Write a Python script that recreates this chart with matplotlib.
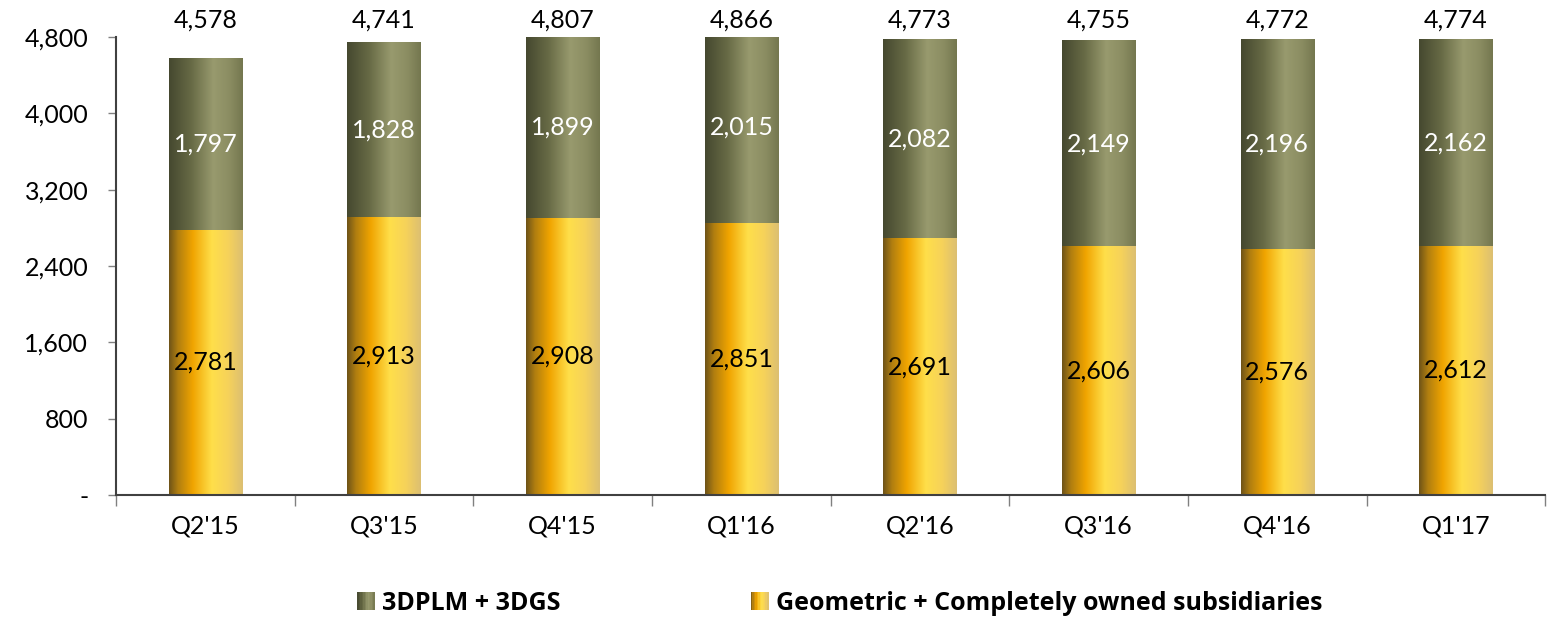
import numpy as np
import matplotlib
matplotlib.use("Agg")
import matplotlib.pyplot as plt
from matplotlib.colors import LinearSegmentedColormap
from matplotlib.patches import Rectangle
from matplotlib.legend_handler import HandlerBase
from matplotlib.ticker import FuncFormatter, FixedLocator

plt.rcParams['font.family'] = ['Lato', 'DejaVu Sans']

quarters = ["Q2'15", "Q3'15", "Q4'15", "Q1'16", "Q2'16", "Q3'16", "Q4'16", "Q1'17"]
geometric = [2781, 2913, 2908, 2851, 2691, 2606, 2576, 2612]
plm_dgs = [1797, 1828, 1899, 2015, 2082, 2149, 2196, 2162]
totals = [4578, 4741, 4807, 4866, 4773, 4755, 4772, 4774]

legend_labels = ["3DPLM + 3DGS", "Geometric + Completely owned subsidiaries"]

# horizontal shading used to give the bars a cylinder look
gold = LinearSegmentedColormap.from_list("gold", [
    (0.0, "#6e5318"), (0.12, "#b07e10"), (0.32, "#f0a400"),
    (0.58, "#ffdf4a"), (0.8, "#f6d25a"), (1.0, "#dcbf72")])
olive = LinearSegmentedColormap.from_list("olive", [
    (0.0, "#45482f"), (0.3, "#676a45"), (0.6, "#989a6e"),
    (0.82, "#8b8d62"), (1.0, "#74774f")])

YMAX = 4800
FS = 18
fig = plt.figure(figsize=(15.64, 6.18), dpi=100)
ax = fig.add_axes([0.0742, 0.199, 0.9138, 0.741])

x = np.arange(len(quarters))
width = 0.41
grad = np.linspace(0, 1, 256).reshape(1, -1)


def shaded_bars(xs, heights, bottoms, cmap):
    bars = ax.bar(xs, heights, width, bottom=bottoms, facecolor="none",
                  edgecolor="none", zorder=2)
    for b in bars:
        x0, y0 = b.get_x(), b.get_y()
        top = min(y0 + b.get_height(), YMAX)  # bars are cut off at the axis top
        ax.imshow(grad, cmap=cmap, aspect="auto", zorder=2,
                  extent=[x0, x0 + b.get_width(), y0, top])
    return bars


shaded_bars(x, geometric, 0, gold)
shaded_bars(x, plm_dgs, geometric, olive)

for xi, g, p, t in zip(x, geometric, plm_dgs, totals):
    ax.text(xi, g / 2, f"{g:,}", ha="center", va="center", fontsize=FS, color="black", zorder=3)
    ax.text(xi, g + p / 2, f"{p:,}", ha="center", va="center", fontsize=FS, color="white", zorder=3)
    ax.text(xi, 4860, f"{t:,}", ha="center", va="bottom", fontsize=FS, color="black",
            zorder=3, clip_on=False)

ax.set_xlim(-0.5, len(quarters) - 0.5)
ax.set_ylim(0, YMAX)

ax.yaxis.set_major_locator(FixedLocator(np.arange(0, YMAX + 1, 800)))
ax.yaxis.set_major_formatter(FuncFormatter(lambda v, _: "-" if v == 0 else f"{int(v):,}"))
ax.tick_params(axis="y", direction="out", length=6, width=1, color="#808080",
               labelsize=FS, pad=14)

ax.set_xticks(x)
ax.set_xticklabels(quarters)
ax.set_xticks(np.arange(-0.5, len(quarters)), minor=True)
ax.tick_params(axis="x", which="major", length=0, labelsize=FS, pad=14)
ax.tick_params(axis="x", which="minor", direction="out", length=8, width=1, color="#808080")

for side in ("top", "right"):
    ax.spines[side].set_visible(False)
for side in ("left", "bottom"):
    ax.spines[side].set_color("#404040")
    ax.spines[side].set_linewidth(1.5)


class GradientHandler(HandlerBase):
    def __init__(self, cmap):
        super().__init__()
        self.cmap = cmap

    def create_artists(self, legend, orig_handle, xdescent, ydescent, width, height,
                       fontsize, trans):
        size = min(width, height)
        x0 = width - size
        y0 = (height - size) / 2 - ydescent
        n = 12
        strips = []
        for i in range(n):
            r = Rectangle((x0 + i * size / n, y0), size / n + 0.3, size,
                          facecolor=self.cmap((i + 0.5) / n), edgecolor="none",
                          transform=trans)
            strips.append(r)
        return strips


h1 = Rectangle((0, 0), 1, 1)
h2 = Rectangle((0, 0), 1, 1)
leg = fig.legend([h1, h2], legend_labels, loc="center", bbox_to_anchor=(0.537, 0.024),
                 ncol=2, frameon=False, handler_map={h1: GradientHandler(olive),
                                                     h2: GradientHandler(gold)},
                 prop={"family": "Open Sans", "weight": "bold", "size": 18},
                 columnspacing=7.6, handlelength=0.7, handletextpad=0.3)

fig.savefig("out.png", dpi=100)
